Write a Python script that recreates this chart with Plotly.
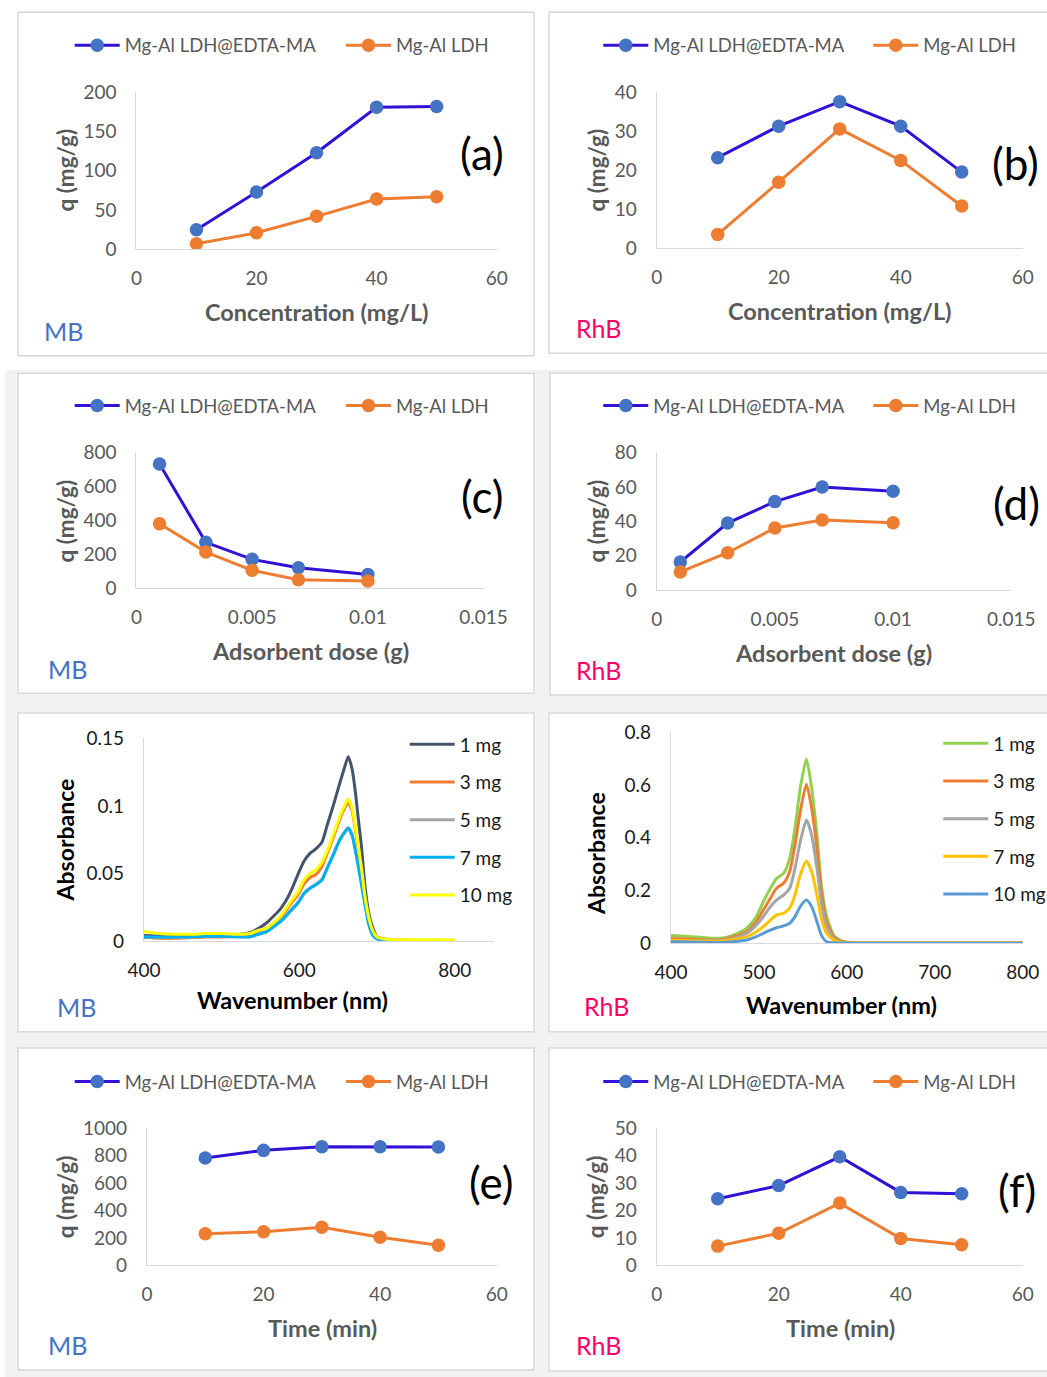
import plotly.graph_objects as go

W, H = 1047, 1377
FONT = "Lato"
GREY_TXT = "#595959"

# ---------------- data: q panels ----------------
SERIES_NAMES = ["Mg-Al LDH@EDTA-MA", "Mg-Al LDH"]

conc = [10, 20, 30, 40, 50]
a_mod = [25, 73, 123, 181, 182]
a_ldh = [7, 21, 42, 64, 67]
b_mod = [23.2, 31.3, 37.6, 31.3, 19.5]
b_ldh = [3.5, 16.9, 30.6, 22.5, 10.8]

dose = [0.001, 0.003, 0.005, 0.007, 0.010]
c_mod = [733, 271, 171, 121, 82]
c_ldh = [381, 214, 106, 51, 43]
d_mod = [16.3, 39.0, 51.5, 60.0, 57.5]
d_ldh = [10.5, 21.7, 36.1, 40.8, 39.2]

time_min = [10, 20, 30, 40, 50]
e_mod = [783, 839, 866, 866, 864]
e_ldh = [231, 245, 277, 204, 146]
f_mod = [24.3, 29.1, 39.6, 26.6, 26.1]
f_ldh = [7.0, 11.7, 22.7, 9.8, 7.5]

# ---------------- data: UV-vis spectra ----------------
DOSE_LABELS = ["1 mg", "3 mg", "5 mg", "7 mg", "10 mg"]

mb_wl = [400, 420, 440, 460, 480, 500, 520, 536, 548, 558, 568, 576, 584, 590, 598,
         606, 614, 621, 629, 636, 644, 652, 658, 663, 668, 672, 676, 680, 685, 690,
         695, 700, 710, 720, 740, 760, 780, 800]
mb_1mg = [0.004, 0.0035, 0.0035, 0.0035, 0.004, 0.004, 0.0045, 0.0061, 0.0095, 0.0135,
          0.019, 0.024, 0.031, 0.038, 0.049, 0.059, 0.065, 0.068, 0.073, 0.086, 0.1007,
          0.1167, 0.128, 0.1364, 0.127, 0.111, 0.090, 0.070, 0.038, 0.019, 0.009, 0.003,
          0.0015, 0.001, 0.0005, 0.0003, 0.0002, 0.0002]
mb_3mg = [0.003, 0.002, 0.002, 0.0025, 0.003, 0.003, 0.0035, 0.005, 0.0075, 0.0095,
          0.0135, 0.0175, 0.0235, 0.0285, 0.034, 0.042, 0.047, 0.049, 0.055, 0.065, 0.077,
          0.090, 0.098, 0.1025, 0.096, 0.083, 0.068, 0.052, 0.030, 0.015, 0.007, 0.003,
          0.001, 0.0005, 0.0003, 0.0002, 0.0002, 0.0002]
mb_5mg = [0.0025, 0.0025, 0.0025, 0.003, 0.0035, 0.0035, 0.0035, 0.0035, 0.0055, 0.0075,
          0.0115, 0.015, 0.0195, 0.0235, 0.0285, 0.0355, 0.0395, 0.042, 0.0455, 0.0545,
          0.0645, 0.075, 0.0805, 0.0838, 0.0785, 0.0677, 0.0555, 0.0425, 0.0257, 0.0112,
          0.0042, 0.0016, 0.0005, 0.0003, 0.0002, 0.0002, 0.0002, 0.0002]
mb_7mg = [0.003, 0.003, 0.003, 0.003, 0.0035, 0.0035, 0.003, 0.003, 0.005, 0.0069,
          0.011, 0.0143, 0.019, 0.023, 0.0279, 0.035, 0.039, 0.0414, 0.045, 0.054, 0.064,
          0.0747, 0.080, 0.0834, 0.078, 0.0673, 0.055, 0.042, 0.0254, 0.011, 0.004, 0.0015,
          0.0005, 0.0002, 0.0001, 0.0001, 0.0001, 0.0001]
mb_10mg = [0.007, 0.0055, 0.005, 0.005, 0.0055, 0.0055, 0.005, 0.0055, 0.008, 0.0094,
           0.014, 0.0185, 0.025, 0.030, 0.036, 0.045, 0.050, 0.0525, 0.058, 0.067, 0.079,
           0.092, 0.100, 0.105, 0.098, 0.085, 0.070, 0.054, 0.031, 0.016, 0.007, 0.003,
           0.0015, 0.001, 0.001, 0.001, 0.001, 0.0008]

rhb_wl = [400, 420, 440, 456, 471, 486, 497, 505, 513, 520, 528, 535, 541, 547, 554,
          560, 566, 571, 577, 585, 594, 605, 620, 650, 700, 750, 800]
rhb_1mg = [0.030, 0.026, 0.021, 0.019, 0.031, 0.057, 0.101, 0.158, 0.208, 0.246, 0.265,
           0.322, 0.436, 0.588, 0.699, 0.588, 0.410, 0.221, 0.101, 0.031, 0.009, 0.003,
           0.002, 0.002, 0.002, 0.002, 0.002]
rhb_3mg = [0.018, 0.016, 0.013, 0.013, 0.024, 0.044, 0.082, 0.126, 0.171, 0.209, 0.2275,
           0.272, 0.373, 0.499, 0.603, 0.512, 0.360, 0.196, 0.082, 0.025, 0.007, 0.002,
           0.001, 0.001, 0.001, 0.001, 0.001]
rhb_5mg = [0.012, 0.011, 0.010, 0.010, 0.019, 0.038, 0.069, 0.101, 0.139, 0.164, 0.183,
           0.2085, 0.284, 0.385, 0.4675, 0.410, 0.284, 0.158, 0.063, 0.019, 0.005, 0.001,
           0.001, 0.001, 0.001, 0.001, 0.001]
rhb_7mg = [0.012, 0.010, 0.008, 0.008, 0.015, 0.025, 0.044, 0.063, 0.088, 0.107, 0.114,
           0.133, 0.183, 0.259, 0.312, 0.271, 0.183, 0.095, 0.038, 0.013, 0.003, 0.001,
           0.001, 0.001, 0.001, 0.001, 0.001]
rhb_10mg = [0.006, 0.005, 0.003, 0.003, 0.006, 0.0125, 0.025, 0.038, 0.050, 0.059, 0.066,
            0.076, 0.101, 0.139, 0.164, 0.139, 0.082, 0.031, 0.006, 0.002, 0.001, 0.0005,
            0.0005, 0.0005, 0.0005, 0.0005, 0.0005]

# ---------------- styling ----------------
MOD_LINE = "#3210D6"
MOD_MARK = "#4472C4"
LDH_COL = "#ED7D31"
MB_COLORS = ["#44546A", "#ED7D31", "#A5A5A5", "#00B0F0", "#FFFF00"]
RHB_COLORS = ["#92D050", "#ED7D31", "#A5A5A5", "#FFC000", "#5B9BD5"]
MB_BLUE = "#4472C4"
RHB_PINK = "#FF0066"
AX_COL = "#D9D9D9"


def xd(px):
    return px / W


def yd(py):
    return 1 - py / H


# panel geometry in pixels: plot area left/right/top/bottom
panels = {
    1: dict(l=136.4, r=496.7, t=92.3, b=249.3, xr=[0, 60], yr=[0, 200], xdt=20, ydt=50),
    2: dict(l=656.7, r=1022.7, t=92.3, b=248.0, xr=[0, 60], yr=[0, 40], xdt=20, ydt=10),
    3: dict(l=136.4, r=483.6, t=452.7, b=588.3, xr=[0, 0.015], yr=[0, 800], xdt=0.005, ydt=200),
    4: dict(l=656.7, r=1011.3, t=452.7, b=590.0, xr=[0, 0.015], yr=[0, 80], xdt=0.005, ydt=20),
    5: dict(l=144.0, r=493.5, t=738.3, b=941.0, xr=[400, 850], yr=[0, 0.15], xdt=None, ydt=0.05),
    6: dict(l=671.0, r=1022.7, t=732.3, b=943.3, xr=[400, 800], yr=[0, 0.8], xdt=100, ydt=0.2),
    7: dict(l=147.0, r=496.7, t=1128.3, b=1265.3, xr=[0, 60], yr=[0, 1000], xdt=20, ydt=200),
    8: dict(l=656.7, r=1022.7, t=1128.3, b=1265.3, xr=[0, 60], yr=[0, 50], xdt=20, ydt=10),
}

fig = go.Figure()
layout = dict(
    width=W, height=H, margin=dict(l=0, r=0, t=0, b=0, autoexpand=False),
    paper_bgcolor="white", plot_bgcolor="rgba(0,0,0,0)",
    showlegend=True, font=dict(family=FONT),
)

for i, p in panels.items():
    sfx = "" if i == 1 else str(i)
    spectra = i in (5, 6)
    tcol = "#1a1a1a" if spectra else GREY_TXT
    xa = dict(
        domain=[xd(p["l"]), xd(p["r"])], range=p["xr"], anchor="y" + sfx,
        showline=True, linecolor=AX_COL, linewidth=1.3, showgrid=False, zeroline=False,
        ticks="outside", ticklen=12, tickcolor="rgba(0,0,0,0)", automargin=False,
        tickfont=dict(family=FONT, size=19, color=tcol), fixedrange=True,
    )
    if p["xdt"] is None:
        xa["tickvals"] = [400, 600, 800]
    else:
        xa["dtick"] = p["xdt"]
        xa["tick0"] = 0 if not spectra else 400
    ya = dict(
        domain=[yd(p["b"]), yd(p["t"])], range=p["yr"], anchor="x" + sfx,
        showline=True, linecolor=AX_COL, linewidth=1.3, showgrid=False, zeroline=False,
        ticks="outside", ticklen=15, tickcolor="rgba(0,0,0,0)", dtick=p["ydt"], tick0=0,
        automargin=False,
        tickfont=dict(family=FONT, size=19, color=tcol), fixedrange=True,
    )
    layout["xaxis" + sfx] = xa
    layout["yaxis" + sfx] = ya

# ---------------- q-panel traces with individual legends ----------------
q_panels = [
    (1, conc, a_mod, a_ldh, 45.7, True),
    (2, conc, b_mod, b_ldh, 45.7, False),
    (3, dose, c_mod, c_ldh, 406.0, True),
    (4, dose, d_mod, d_ldh, 406.0, False),
    (7, time_min, e_mod, e_ldh, 1082.0, True),
    (8, time_min, f_mod, f_ldh, 1082.0, False),
]
leg_idx = 1
for i, xs, ym, yl, ly, left in q_panels:
    sfx = "" if i == 1 else str(i)
    text_starts = (124.7, 396.0) if left else (653.3, 923.3)
    for k, (ys, lc, mc) in enumerate([(ym, MOD_LINE, MOD_MARK), (yl, LDH_COL, LDH_COL)]):
        lname = "legend" if leg_idx == 1 else "legend%d" % leg_idx
        fig.add_trace(go.Scatter(
            x=xs, y=ys, mode="lines+markers", name=SERIES_NAMES[k],
            line=dict(color=lc, width=3),
            marker=dict(color=mc, size=13.5, line=dict(width=0)),
            xaxis="x" + sfx, yaxis="y" + sfx, legend=lname, showlegend=True,
        ))
        layout[lname] = dict(
            x=xd(text_starts[k] - 55), y=yd(ly), xanchor="left", yanchor="middle",
            orientation="h", bgcolor="rgba(0,0,0,0)", borderwidth=0, itemwidth=45,
            font=dict(family=FONT, size=18.5, color=GREY_TXT),
        )
        leg_idx += 1

# ---------------- spectra traces ----------------
spec_sets = [
    (5, mb_wl, [mb_1mg, mb_3mg, mb_5mg, mb_7mg, mb_10mg], MB_COLORS, 459.7, 744.3),
    (6, rhb_wl, [rhb_1mg, rhb_3mg, rhb_5mg, rhb_7mg, rhb_10mg], RHB_COLORS, 993.3, 743.3),
]
for i, wl, curves, cols, tx, ty in spec_sets:
    sfx = str(i)
    lname = "legend%d" % leg_idx
    for k, ys in enumerate(curves):
        fig.add_trace(go.Scatter(
            x=wl, y=ys, mode="lines", name=DOSE_LABELS[k],
            line=dict(color=cols[k], width=3, shape="spline", smoothing=0.6),
            xaxis="x" + sfx, yaxis="y" + sfx, legend=lname, legendgroup="g%d_%d" % (i, k),
            showlegend=True,
        ))
    layout[lname] = dict(
        x=xd(tx - 55), y=yd(ty - 18.9), xanchor="left", yanchor="top",
        orientation="v", bgcolor="rgba(0,0,0,0)", borderwidth=0, itemwidth=45,
        tracegroupgap=10, font=dict(family=FONT, size=19, color="#1a1a1a"),
    )
    leg_idx += 1

# ---------------- panel backgrounds ----------------
shapes = [dict(type="rect", xref="paper", yref="paper", x0=xd(5), x1=1, y0=0, y1=yd(370),
               fillcolor="#F2F2F2", line=dict(width=0), layer="below")]
boxes = [
    (18, 534, 12.3, 355.7), (549, 1050, 12.3, 353.3),
    (18, 534, 373.3, 693.3), (550, 1050, 373.0, 695.0),
    (18, 534, 713.0, 1031.7), (549, 1050, 713.0, 1031.7),
    (18, 534, 1048.0, 1370.0), (549, 1050, 1048.0, 1371.0),
]
for x0, x1, y0, y1 in boxes:
    shapes.append(dict(type="rect", xref="paper", yref="paper", x0=xd(x0), x1=xd(x1),
                       y0=yd(y1), y1=yd(y0), fillcolor="white",
                       line=dict(color=AX_COL, width=1.5), layer="below"))
layout["shapes"] = shapes

# ---------------- text annotations ----------------
anns = []


def ann(text, x, y, size, color, bold=False, angle=0):
    anns.append(dict(text=text, x=xd(x), y=yd(y), xref="paper", yref="paper",
                     showarrow=False, textangle=angle, xanchor="center", yanchor="middle",
                     font=dict(family=FONT, size=size, color=color,
                               weight="bold" if bold else "normal")))


# panel letters
for t, x, y in [("(a)", 482, 153), ("(b)", 1015, 163.3), ("(c)", 482, 496),
                ("(d)", 1016.7, 503.3), ("(e)", 490.7, 1181.7), ("(f)", 1016.7, 1190)]:
    ann(t, x, y, 44, "#000000")

# dye labels
for t, x, y in [("MB", 63, 331), ("RhB", 598.3, 328.3), ("MB", 67.7, 669),
                ("RhB", 598.3, 670), ("MB", 76.5, 1006.7), ("RhB", 606.7, 1005.7),
                ("MB", 67.8, 1345), ("RhB", 598.3, 1345)]:
    ann(t, x, y, 25, MB_BLUE if t == "MB" else RHB_PINK)

# axis titles
for t, x, y, c in [("Concentration (mg/L)", 317, 312, GREY_TXT),
                   ("Concentration (mg/L)", 840, 311, GREY_TXT),
                   ("Adsorbent dose (g)", 310, 651, GREY_TXT),
                   ("Adsorbent dose (g)", 833.3, 652.7, GREY_TXT),
                   ("Wavenumber (nm)", 292.8, 1000, "#000000"),
                   ("Wavenumber (nm)", 841.7, 1005.3, "#000000"),
                   ("Time (min)", 322, 1328.3, GREY_TXT),
                   ("Time (min)", 840, 1328.3, GREY_TXT)]:
    ann(t, x, y, 23.5, c, bold=True)

for t, x, y, c, s in [("q (mg/g)", 64.5, 170, GREY_TXT, 22.5),
                      ("q (mg/g)", 595.5, 170, GREY_TXT, 22.5),
                      ("q (mg/g)", 64.5, 521, GREY_TXT, 22.5),
                      ("q (mg/g)", 595.5, 521, GREY_TXT, 22.5),
                      ("Absorbance", 65.4, 840, "#000000", 23),
                      ("Absorbance", 596.7, 853.3, "#000000", 23),
                      ("q (mg/g)", 65.5, 1196.7, GREY_TXT, 22.5),
                      ("q (mg/g)", 595.5, 1196.7, GREY_TXT, 22.5)]:
    ann(t, x, y, s, c, bold=True, angle=-90)

layout["annotations"] = anns
fig.update_layout(**layout)
fig.write_html("out.html", config={"displayModeBar": False},
               post_script="document.body.style.margin='0';")
